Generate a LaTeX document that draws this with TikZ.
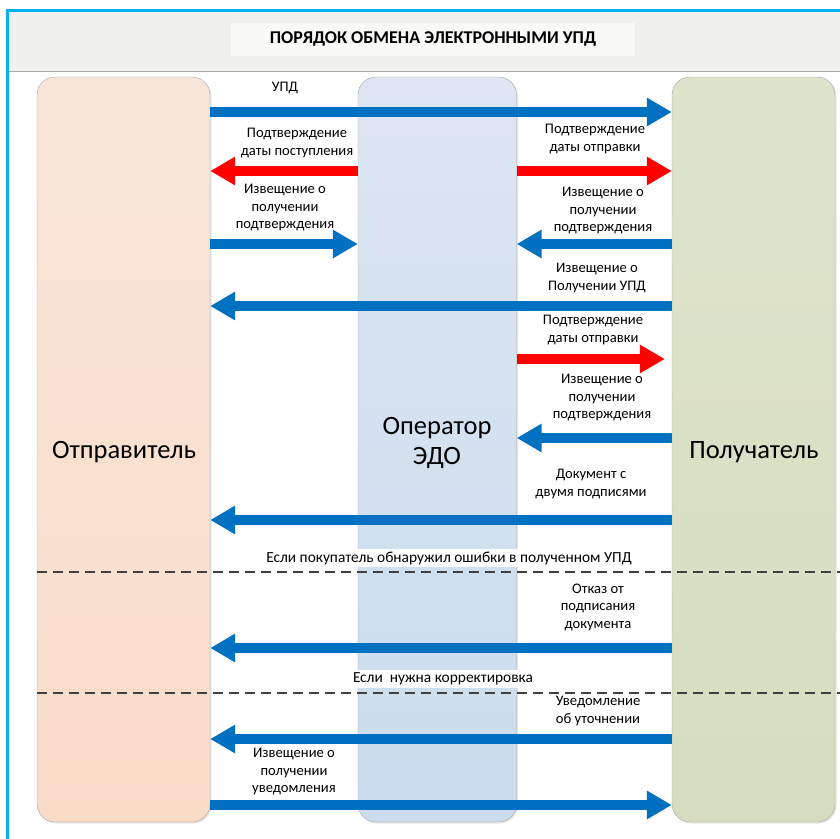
\documentclass[tikz,border=0pt]{standalone}
\usepackage{fontspec}
\setmainfont{Carlito}
\usetikzlibrary{arrows.meta,shadows}

\definecolor{frameblue}{HTML}{00B0F0}
\definecolor{headgray}{HTML}{F0F0EE}
\definecolor{arrblue}{HTML}{0070C0}
\definecolor{arrred}{HTML}{FF0000}
\definecolor{sndtop}{HTML}{F8E5DA}
\definecolor{sndbot}{HTML}{F9DCC8}
\definecolor{oprtop}{HTML}{DDE6F1}
\definecolor{oprbot}{HTML}{CADCEE}
\definecolor{rcvtop}{HTML}{DEE3CC}
\definecolor{rcvbot}{HTML}{D6DDBF}

\tikzset{
  column/.style={draw=black!35, rounded corners=18pt, inner sep=0pt, minimum height=745pt,
    drop shadow={shadow xshift=1.5pt, shadow yshift=-1.5pt, opacity=.2}},
  msg/.style={line width=10pt, -{Triangle[length=25pt,width=27pt]}},
  bluemsg/.style={msg, draw=arrblue},
  redmsg/.style={msg, draw=arrred},
  sepline/.style={draw=black!75, line width=1.8pt, dash pattern=on 10pt off 6pt},
  note/.style={font=\fontsize{14.6}{17.5}\selectfont, align=center, inner sep=3pt},
}

\begin{document}
\begin{tikzpicture}[x=1pt,y=-1pt]

      \useasboundingbox (0,0) rectangle (840,838);
      \fill[white] (0,0) rectangle (840,838);

      % header
      \fill[headgray] (7,10) rectangle (840,71);
      \draw[black!35] (7,71) -- (840,71);
      \draw[frameblue, line width=3pt] (7,842) -- (7,10) -- (842,10);
      \node[fill=white!60!headgray, minimum width=404pt, minimum height=33pt,
            font=\bfseries\fontsize{18}{21}\selectfont] (title) at (433,39) {ПОРЯДОК ОБМЕНА ЭЛЕКТРОННЫМИ УПД};

      \begin{scope}[every node/.style={column}]
        \node[top color=sndtop, bottom color=sndbot, minimum width=173pt] (snd) at (123.5,449.5) {};
        \node[top color=oprtop, bottom color=oprbot, minimum width=158.5pt] (opr) at (437.25,449.5) {};
        \node[top color=rcvtop, bottom color=rcvbot, minimum width=163pt] (rcv) at (753.5,449.5) {};
      \end{scope}

      \begin{scope}[every node/.style={font=\fontsize{26.5}{30}\selectfont, align=center}]
        \node (sndname) at (124,452) {Отправитель};
        \node (oprname) at (437,443) {Оператор\\ЭДО};
        \node (rcvname) at (754,452) {Получатель};
      \end{scope}

      % separators
      \coordinate (s1) at (840,572);
      \coordinate (s2) at (840,693);
      \draw[sepline] (snd.west |- s1) -- (s1);
      \draw[sepline] (snd.west |- s2) -- (s2);

      \foreach \n/\y in {1/112, 2/171, 3/244, 4/306, 5/359, 6/438, 7/520, 8/648, 9/739, 10/805}
        \coordinate (r\n) at (0,\y);

      \path (snd.east |- r1)  edge[bluemsg] (rcv.west |- r1);
      \path (opr.west |- r2)  edge[redmsg]  (snd.east |- r2);
      \path (opr.east |- r2)  edge[redmsg]  (rcv.west |- r2);
      \path (snd.east |- r3)  edge[bluemsg] (opr.west |- r3);
      \path (rcv.west |- r3)  edge[bluemsg] (opr.east |- r3);
      \path (rcv.west |- r4)  edge[bluemsg] (snd.east |- r4);
      \path (opr.east |- r5)  edge[redmsg, shorten >=7pt] (rcv.west |- r5);
      \path (rcv.west |- r6)  edge[bluemsg] (opr.east |- r6);
      \path (rcv.west |- r7)  edge[bluemsg] (snd.east |- r7);
      \path (rcv.west |- r8)  edge[bluemsg] (snd.east |- r8);
      \path (rcv.west |- r9)  edge[bluemsg] (snd.east |- r9);
      \path (snd.east |- r10) edge[bluemsg] (rcv.west |- r10);

      \begin{scope}[every node/.style={note}]
        \node (lupd)      at (285,88)  {УПД};
        \node (lrecdate)  at (297,143) {Подтверждение\\даты поступления};
        \node (lsenddate) at (595,139) {Подтверждение\\даты отправки};
        \node (lackleft)  at (285,208) {Извещение о\\получении\\подтверждения};
        \node (lackright) at (603,211) {Извещение о\\получении\\подтверждения};
        \node (lrecupd)   at (597,278) {Извещение о\\Получении УПД};
        \node (lsenddate2) at (593,330) {Подтверждение\\даты отправки};
        \node (lack2)     at (602,398) {Извещение о\\получении\\подтверждения};
        \node (lsigned)   at (591,484) {Документ с\\двумя подписями};
        \node[fill=white, font=\fontsize{15.4}{18}\selectfont] (lerrors) at (449,558) {Если покупатель обнаружил ошибки в полученном УПД};
        \node (lrefuse)   at (598,607) {Отказ от\\подписания\\документа};
        \node[fill=white, font=\fontsize{15.4}{18}\selectfont] (lcorr) at (443,679) {Если\ \ нужна корректировка};
        \node (lclarify)  at (598,711) {Уведомление\\об уточнении};
        \node (lnotice)   at (294,772) {Извещение о\\получении\\уведомления};
      \end{scope}

    \end{tikzpicture}
\end{document}
